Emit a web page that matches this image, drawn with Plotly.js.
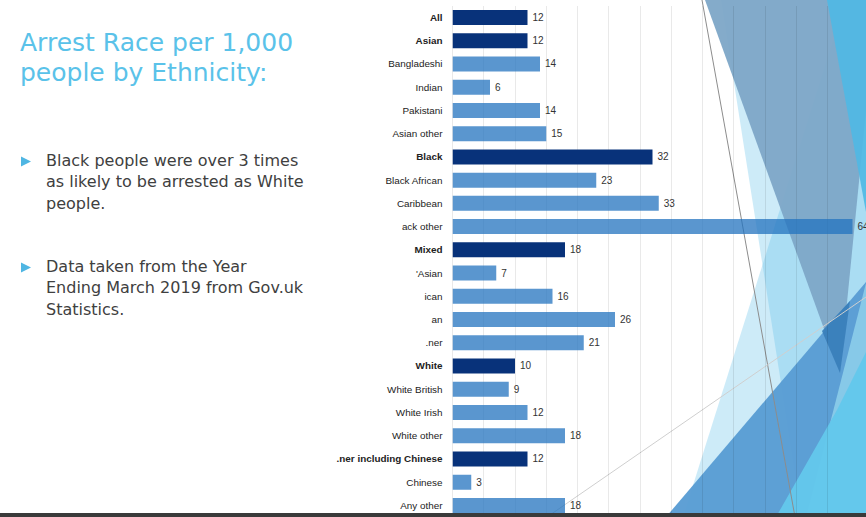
<!DOCTYPE html>
<html>
<head>
<meta charset="utf-8">
<script src="https://cdn.plot.ly/plotly-3.0.1.min.js"></script>
<style>
  html,body{margin:0;padding:0;background:#fff;}
  #chart{width:866px;height:517px;}
</style>
</head>
<body>
<div id="chart"></div>
<script>
// ---- data ----
const categories = [
  "All", "Asian", "Bangladeshi", "Indian", "Pakistani", "Asian other",
  "Black", "Black African", "Caribbean", "ack other",
  "Mixed", "'Asian", "ican", "an", ".ner",
  "White", "White British", "White Irish", "White other",
  ".ner including Chinese", "Chinese", "Any other"
];
const rates = [12, 12, 14, 6, 14, 15, 32, 23, 33, 64, 18, 7, 16, 26, 21, 10, 9, 12, 18, 12, 3, 18];
const isGroup = [1, 1, 0, 0, 0, 0, 1, 0, 0, 0, 1, 0, 0, 0, 0, 1, 0, 0, 0, 1, 0, 0];
const xTicks = [0, 5, 10, 15, 20, 25, 30, 35, 40, 45, 50, 55, 60, 65];

const titleLines = ["Arrest Race per 1,000", "people by Ethnicity:"];
const bullet1 = ["Black people were over 3 times", "as likely to be arrested as White", "people."];
const bullet2 = ["Data taken from the Year", "Ending March 2019 from Gov.uk", "Statistics."];

// ---- helpers (page pixel -> paper) ----
const W = 866, H = 517;
const px = x => x / W;
const py = y => 1 - y / H;
const path = pts => 'M' + pts.map(p => px(p[0]).toFixed(5) + ' ' + py(p[1]).toFixed(5)).join(' L') + ' Z';
const poly = (pts, fill, layer) => ({ type: 'path', layer: layer || 'below', xref: 'paper', yref: 'paper', path: path(pts), fillcolor: fill, line: { width: 0 } });

const DARK = '#08327a';
const LIGHT = 'rgba(35,115,191,0.75)';

const trace = {
  type: 'bar',
  orientation: 'h',
  y: categories,
  x: rates,
  marker: { color: isGroup.map(g => g ? DARK : LIGHT), line: { width: 0 } },
  text: rates.map(v => '\u2009' + v),
  textposition: 'outside',
  cliponaxis: false,
  textfont: { family: 'Liberation Sans, Arial, sans-serif', size: 10, color: '#333' },
  hoverinfo: 'none'
};

const shapes = [
  // light cyan facets
  poly([[721,0],[866,0],[866,517],[802,517]], 'rgba(90,190,232,0.3)'),
  poly([[683,517],[846,0],[866,0],[866,517]], 'rgba(90,190,232,0.3)'),
  // gray-blue facet
  poly([[705,0],[877,0],[840,373]], 'rgba(125,166,199,0.95)'),
  // cyan top-right facet
  poly([[827,0],[866,0],[866,212]], 'rgba(80,185,228,0.92)'),
  // mid-blue facet from bottom
  poly([[666,517],[866,282],[866,517]], 'rgba(88,156,211,0.96)'),
  // dark overlap wedge
  poly([[822,331],[850,301],[840,373]], 'rgba(58,128,186,0.95)'),
  // pale blue facet at right
  poly([[806,517],[866,283],[866,517]], 'rgba(140,205,234,0.9)'),
  // cyan bottom-right facet
  poly([[776,517],[837,410],[866,352],[866,517]], 'rgba(99,199,235,0.97)'),
  // thin lines
  { type: 'line', layer: 'below', xref: 'paper', yref: 'paper', x0: px(702), y0: py(0), x1: px(795), y1: py(517), line: { color: '#8c8c8c', width: 1 } },
  { type: 'line', layer: 'below', xref: 'paper', yref: 'paper', x0: px(547), y0: py(517), x1: px(866), y1: py(297), line: { color: '#cfcfcf', width: 1 } },
  // bullets
  poly([[21,156.5],[31,161.5],[21,166.5]], '#4fb6e3', 'above'),
  poly([[21,262.5],[31,267.5],[21,272.5]], '#4fb6e3', 'above'),
  // dark strip at bottom
  { type: 'rect', layer: 'above', xref: 'paper', yref: 'paper', x0: 0, x1: 1, y0: py(517), y1: py(513), fillcolor: '#3a3a3a', line: { width: 0 } }
];

const annotations = [];
titleLines.forEach((t, i) => annotations.push({
  xref: 'paper', yref: 'paper', x: px(18), y: py(42 + i * 30), xanchor: 'left', yanchor: 'middle',
  text: t, showarrow: false, font: { family: 'DejaVu Sans, Verdana, sans-serif', size: 25, color: '#5ac2e9' }
}));
bullet1.forEach((t, i) => annotations.push({
  xref: 'paper', yref: 'paper', x: px(44), y: py(160 + i * 21.8), xanchor: 'left', yanchor: 'middle',
  text: t, showarrow: false, font: { family: 'DejaVu Sans, Verdana, sans-serif', size: 16, color: '#404040' }
}));
bullet2.forEach((t, i) => annotations.push({
  xref: 'paper', yref: 'paper', x: px(44), y: py(266 + i * 21.8), xanchor: 'left', yanchor: 'middle',
  text: t, showarrow: false, font: { family: 'DejaVu Sans, Verdana, sans-serif', size: 16, color: '#404040' }
}));

const layout = {
  width: W, height: H,
  margin: { l: 0, r: 0, t: 0, b: 0 },
  paper_bgcolor: '#ffffff',
  plot_bgcolor: 'rgba(0,0,0,0)',
  showlegend: false,
  bargap: 0.354,
  xaxis: {
    domain: [px(452.5), px(452.5 + 65 * 6.25)],
    range: [0, 65],
    tickvals: xTicks,
    showticklabels: false,
    showgrid: true, gridcolor: 'rgba(0,0,0,0.085)', gridwidth: 1,
    zeroline: true, zerolinecolor: 'rgba(0,0,0,0.085)',
    showline: false, fixedrange: true
  },
  yaxis: {
    domain: [0, py(5.9)],
    autorange: 'reversed',
    type: 'category',
    tickvals: categories,
    ticktext: categories.map((c, i) => isGroup[i] ? '<b>' + c + '</b>' : c),
    tickfont: { family: 'Liberation Sans, Arial, sans-serif', size: 9.9, color: '#222' },
    ticks: '', ticklabelstandoff: 9,
    showgrid: false, zeroline: false, showline: false, automargin: false, fixedrange: true
  },
  shapes: shapes,
  annotations: annotations
};

Plotly.newPlot('chart', [trace], layout, { displayModeBar: false, staticPlot: true });
</script>
</body>
</html>
